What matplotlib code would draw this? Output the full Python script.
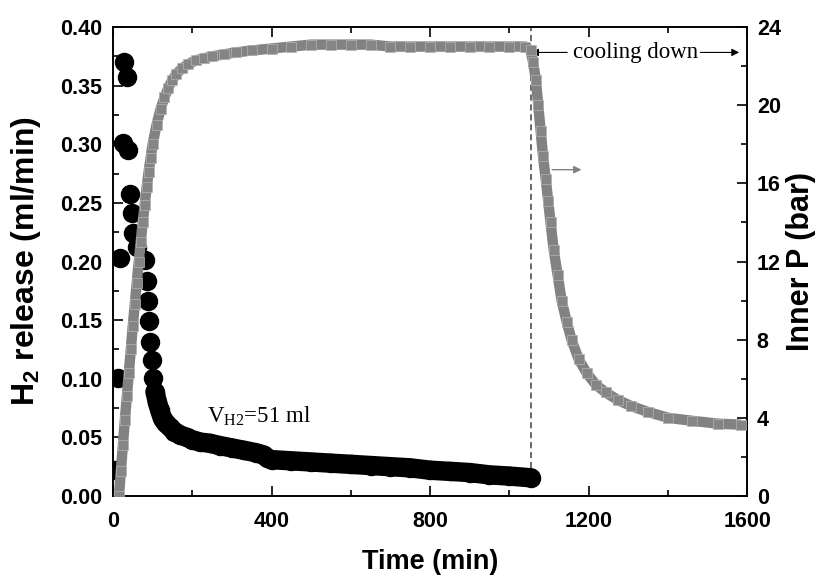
import numpy as np
import matplotlib
matplotlib.use("Agg")
import matplotlib.pyplot as plt
from matplotlib.ticker import MultipleLocator, FormatStrFormatter

# ------------------------------------------------------------
# Data
# ------------------------------------------------------------
# H2 release rate, early scattered points (min, ml/min)
t_h2_early = [5, 13, 18, 25, 28, 35, 38, 43, 48, 50, 60, 80, 85, 88, 90, 93, 98, 101]
h2_early = [0.022, 0.101, 0.203, 0.301, 0.370, 0.357, 0.295, 0.258, 0.241, 0.224,
            0.212, 0.201, 0.183, 0.166, 0.149, 0.131, 0.116, 0.101]

# H2 release rate, dense tail (min, ml/min)
t_h2_tail = [106, 112, 118, 125, 133, 143, 155, 170, 186, 200, 220, 244, 270, 300,
             330, 360, 380, 390, 400, 450, 500, 550, 600, 650, 700, 750, 800, 850,
             900, 950, 1000, 1055]
h2_tail = [0.089, 0.080, 0.073, 0.066, 0.062, 0.059, 0.055, 0.052, 0.050, 0.048,
           0.046, 0.045, 0.043, 0.041, 0.039, 0.037, 0.035, 0.032, 0.031, 0.030,
           0.029, 0.028, 0.027, 0.026, 0.025, 0.024, 0.022, 0.021, 0.020, 0.018,
           0.017, 0.0155]

# Inner pressure (min, bar)
t_p = [15, 20, 25, 30, 35, 40, 45, 50, 55, 60, 65, 70, 75, 80, 85, 90, 95, 100,
       110, 120, 130, 140, 150, 160, 175, 190, 210, 230, 250, 280, 310, 350, 400,
       450, 500, 550, 600, 650, 700, 750, 800, 850, 900, 950, 1000, 1040, 1054,
       1060, 1067, 1073, 1079, 1085, 1092, 1098, 1104, 1112, 1122, 1132, 1145,
       1157, 1175, 1195, 1218, 1243, 1275, 1308, 1350, 1401, 1460, 1527, 1585]
p = [0.0, 1.3, 2.6, 3.9, 5.1, 6.3, 7.5, 8.7, 9.8, 10.9, 12.0, 13.0, 14.0, 14.9,
     15.8, 16.6, 17.3, 18.0, 19.0, 19.8, 20.4, 20.9, 21.3, 21.6, 21.9, 22.1, 22.3,
     22.4, 22.5, 22.6, 22.7, 22.8, 22.9, 23.0, 23.1, 23.1, 23.1, 23.1, 23.0, 23.0,
     23.0, 23.0, 23.0, 23.0, 23.0, 23.0, 22.8, 22.2, 21.3, 20.0, 18.7, 17.4, 16.2,
     15.1, 14.0, 12.6, 11.3, 10.0, 8.9, 8.0, 7.0, 6.3, 5.7, 5.3, 4.9, 4.6, 4.3,
     4.0, 3.85, 3.7, 3.65]

t_cool = 1055

# ------------------------------------------------------------
# Style
# ------------------------------------------------------------
plt.rcParams['font.family'] = 'Liberation Sans'
plt.rcParams['font.weight'] = 'bold'
plt.rcParams['mathtext.fontset'] = 'custom'
plt.rcParams['mathtext.rm'] = 'Liberation Serif:weight=normal'
plt.rcParams['mathtext.bf'] = 'Liberation Sans:bold'

fig = plt.figure(figsize=(8.21, 5.75), dpi=100)
ax = fig.add_axes([0.1376, 0.1374, 0.7724, 0.8156])
ax2 = ax.twinx()
ax.set_zorder(1)
ax2.set_zorder(2)
ax2.patch.set_visible(False)

# dashed line marking start of cooling
ax.plot([t_cool, t_cool], [h2_tail[-1], 0.40], color='#404040', lw=1.1,
        linestyle=(0, (4, 2.5)), zorder=1)

# H2 release
ax.plot(t_h2_tail, h2_tail, color='black', lw=14, solid_capstyle='round', zorder=2)
ax.plot(t_h2_early + t_h2_tail, h2_early + h2_tail, 'o', color='black', ms=13,
        zorder=3)

# Pressure drawn on top
ax2.plot(t_p, p, color='#828282', lw=7.5, solid_capstyle='butt', zorder=4)
ax2.plot(t_p, p, 's', ms=6.5, mfc='#858585', mec='#b4b4b4', mew=0.5, zorder=5)

# annotations
ax2.annotate('cooling down', xy=(t_cool, 22.7), xytext=(1318, 22.7),
             ha='center', va='center', fontsize=16.5, family='Liberation Serif',
             weight='normal',
             arrowprops=dict(arrowstyle='-|>', color='black', lw=0.8,
                             mutation_scale=11, shrinkB=0))
ax2.annotate('', xy=(1580, 22.7), xytext=(1482, 22.7),
             arrowprops=dict(arrowstyle='-|>', color='black', lw=0.8,
                             mutation_scale=11, shrinkA=0, shrinkB=0))
ax2.annotate('', xy=(1182, 16.7), xytext=(1108, 16.7),
             arrowprops=dict(arrowstyle='-|>', color='#808080', lw=1.0,
                             mutation_scale=11, shrinkA=0, shrinkB=0))
ax.text(237, 0.063, r'V$_{\rm H2}$=51 ml', fontsize=16.5, family='Liberation Serif',
        weight='normal', va='baseline')

# axes limits and ticks
ax.set_xlim(0, 1600)
ax.set_ylim(0, 0.40)
ax2.set_ylim(0, 24)

ax.xaxis.set_major_locator(MultipleLocator(400))
ax.xaxis.set_minor_locator(MultipleLocator(200))
ax.yaxis.set_major_locator(MultipleLocator(0.05))
ax.yaxis.set_minor_locator(MultipleLocator(0.025))
ax.yaxis.set_major_formatter(FormatStrFormatter('%.2f'))
ax2.yaxis.set_major_locator(MultipleLocator(4))
ax2.yaxis.set_minor_locator(MultipleLocator(2))

ax.tick_params(which='both', direction='in', top=True, right=False,
               labelsize=15.5, width=1.2)
ax.tick_params(axis='x', pad=11)
ax.tick_params(axis='y', pad=8)
ax.tick_params(which='major', length=7)
ax.tick_params(which='minor', length=4.5)
ax2.tick_params(which='both', direction='in', labelsize=15.5, width=1.2, pad=7)
ax2.tick_params(which='major', length=7)
ax2.tick_params(which='minor', length=4.5)
for a in (ax, ax2):
    for s in a.spines.values():
        s.set_linewidth(1.2)

ax.set_xlabel('Time (min)', fontsize=19.5, fontweight='bold', labelpad=12)
ax.set_ylabel(r'H$_\mathbf{2}$ release (ml/min)', fontsize=23, fontweight='bold',
              labelpad=12)
ax2.set_ylabel('Inner P (bar)', fontsize=22, fontweight='bold', labelpad=4)

fig.savefig('out.png', dpi=100)
